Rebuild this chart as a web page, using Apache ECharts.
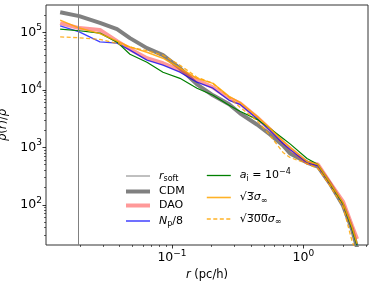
<!DOCTYPE html>
<html>
<head>
<meta charset="utf-8">
<script src="https://cdn.jsdelivr.net/npm/echarts@6/dist/echarts.min.js"></script>
<style>html,body{margin:0;padding:0;background:#fff}#c{width:374px;height:282px}</style>
</head>
<body>
<div id="c"></div>
<script>
// radius grid (pc/h)
const r = [0.0141, 0.0197, 0.0283, 0.0382, 0.0479, 0.0645, 0.0854, 0.115, 0.155, 0.205, 0.272, 0.329, 0.443, 0.557, 0.700, 0.791, 1.065, 1.29, 1.59, 2.0, 2.34, 2.56];
const cdm    = [2.25e5, 1.92e5, 1.47e5, 1.14e5, 7.96e4, 5.33e4, 4.02e4, 2.38e4, 1.25e4, 8.05e3, 5.61e3, 3.91e3, 2.5e3, 1.68e3, 1.08e3, 782, 545, 464, 235, 97, 38, 18];
const dao    = [1.45e5, 1.19e5, 1.10e5, 7.05e4, 5.12e4, 3.56e4, 2.91e4, 2.2e4, 1.47e4, 1.11e4, 7.13e3, 5.84e3, 3.33e3, 2.05e3, 1.22e3, 957, 545, 503, 244, 114, 43.4, 25.5];
const np8    = [1.30e5, 1.02e5, 6.85e4, 6.5e4, 4.91e4, 3.29e4, 2.69e4, 2.03e4, 1.36e4, 1.07e4, 6.58e3, 5.61e3, 3.19e3, 1.97e3, 1.17e3, 918, 545, 483, 235, 105, 38.4, 20];
const ai4    = [1.14e5, 1.07e5, 9.72e4, 6.78e4, 4.18e4, 3.03e4, 2.03e4, 1.59e4, 1.07e4, 8.05e3, 5.39e3, 4.24e3, 3.07e3, 2.14e3, 1.43e3, 1.15e3, 641, 503, 235, 105, 38.4, 19.5];
const sq3    = [1.64e5, 1.19e5, 9.53e4, 7.05e4, 5.61e4, 4.53e4, 3.56e4, 2.38e4, 1.59e4, 1.30e4, 7.73e3, 6.08e3, 3.46e3, 2.14e3, 1.27e3, 996, 568, 503, 244, 109, 41.7, 21];
const sq300  = [8.38e4, 8.05e4, 7.55e4, 6.43e4, 5.55e4, 4.8e4, 4.02e4, 2.69e4, 1.66e4, 1.30e4, 7.43e3, 4.97e3, 2.94e3, 1.61e3, 815, 666, 523, 428, 216, 93, 23.7, 14];
const rSoft = 0.0197;
// axis limits and ticks
const xLim = [0.011, 3.1];
const yLim = [20, 3e5];
const xMajor = [0.1, 1];
const yMajor = [1e2, 1e3, 1e4, 1e5];

const L = Math.log10;
function minorTicks(lo, hi) {
  const out = [];
  for (let e = Math.floor(L(lo)); e <= Math.ceil(L(hi)); e++) {
    for (let k = 2; k <= 9; k++) {
      const v = k * Math.pow(10, e);
      if (v > lo * 1.0001 && v < hi * 0.9999) out.push(L(v));
    }
  }
  return out;
}
function pts(ys) { return r.map((x, i) => [L(x), L(ys[i])]); }
function expLabel(v) {
  const n = Math.round(v);
  const s = n < 0 ? '\u2212' + (-n) : String(n);
  return '{b|10}{s|' + s + '}';
}
const FONT = 'DejaVu Sans';
const tickRich = {
  b: { fontSize: 12.5, fontFamily: FONT, color: '#000' },
  s: { fontSize: 9, fontFamily: FONT, color: '#000', padding: [0, 0, 9, 0] }
};
const axisBase = (lim) => ({
  type: 'value', min: L(lim[0]), max: L(lim[1]),
  splitLine: { show: false }, axisLine: { show: false, onZero: false }
});

const chart = echarts.init(document.getElementById('c'), null, { renderer: 'canvas' });
const LH = 14;
const legRich = {
  i: { fontStyle: 'italic', fontSize: 11, fontFamily: FONT, color: '#000', lineHeight: LH },
  sub: { fontSize: 8, fontFamily: FONT, color: '#000', padding: [6, 0, 0, 0], lineHeight: LH },
  sup: { fontSize: 8, fontFamily: FONT, color: '#000', padding: [0, 0, 7, 0], lineHeight: LH },
  t: { fontSize: 11, fontFamily: FONT, color: '#000', lineHeight: LH }
};
const labels = {
  rsoft: '{i|r}{sub|soft}',
  CDM: '{t|CDM}',
  DAO: '{t|DAO}',
  np8: '{i|N}{sub|p}{t|/8}',
  ai: '{i|a}{sub|i}{t| = 10}{sup|\u22124}',
  sq3: '{t|\u221A3\u0305}{i|\u03C3}{sub|\u221E}',
  sq300: '{t|\u221A3\u03050\u03050\u0305}{i|\u03C3}{sub|\u221E}'
};
const C = {
  rsoft: '#808080', CDM: '#808080', DAO: 'rgba(255,70,70,0.55)', np8: 'rgba(0,0,255,0.75)',
  ai: '#008000', sq3: 'rgba(255,165,0,0.85)', sq300: 'rgba(255,165,0,0.85)'
};
const W = { rsoft: 1, CDM: 4, DAO: 4, np8: 1.5, ai: 1.3, sq3: 1.6, sq300: 1.4 };
const legItem = (n) => ({ name: n, itemStyle: { opacity: 0 }, lineStyle: { color: C[n], width: W[n], type: n === 'sq300' ? [4, 2.5] : 'solid', opacity: 1 } });

chart.setOption({
  animation: false,
  backgroundColor: '#fff',
  grid: { left: 46, right: 6, top: 5, bottom: 37, containLabel: false, outerBoundsMode: 'none', show: true, borderColor: '#333', borderWidth: 1, backgroundColor: 'transparent' },
  xAxis: [
    Object.assign(axisBase(xLim), {
      position: 'bottom',
      name: '{i|r} (pc/h)', nameLocation: 'middle', nameGap: 20,
      nameTextStyle: { fontSize: 11.5, fontFamily: FONT, color: '#000', rich: { i: { fontStyle: 'italic', fontSize: 11.5, fontFamily: FONT, color: '#000' } } },
      axisTick: { show: true, length: 3.5, lineStyle: { color: '#000', width: 0.8 }, customValues: xMajor.map(L) },
      axisLabel: { show: true, margin: 4, customValues: xMajor.map(L), formatter: expLabel, rich: tickRich }
    }),
    Object.assign(axisBase(xLim), {
      position: 'bottom',
      axisTick: { show: true, length: 2, lineStyle: { color: '#000', width: 0.6 }, customValues: minorTicks(xLim[0], xLim[1]) },
      axisLabel: { show: false }
    })
  ],
  yAxis: [
    Object.assign(axisBase(yLim), {
      position: 'left',
      name: '{i|\u03C1}{t|(}{i|r}{t|)/}{i|\u03C1\u0304}', nameLocation: 'middle', nameGap: 37,
      nameTextStyle: { fontSize: 11.5, fontFamily: FONT, color: '#000', rich: {
        i: { fontStyle: 'italic', fontSize: 11.5, fontFamily: FONT, color: '#000' },
        t: { fontSize: 11.5, fontFamily: FONT, color: '#000' } } },
      axisTick: { show: true, length: 3.5, lineStyle: { color: '#000', width: 0.8 }, customValues: yMajor.map(L) },
      axisLabel: { show: true, margin: 4, customValues: yMajor.map(L), formatter: expLabel, rich: tickRich }
    }),
    Object.assign(axisBase(yLim), {
      position: 'left',
      axisTick: { show: true, length: 2, lineStyle: { color: '#000', width: 0.6 }, customValues: minorTicks(yLim[0], yLim[1]) },
      axisLabel: { show: false }
    })
  ],
  legend: [
    {
      data: ['rsoft', 'CDM', 'DAO', 'np8'].map(legItem), orient: 'vertical', left: 119, top: 164,
      itemWidth: 24, itemHeight: 10, itemGap: 3,
      formatter: (n) => labels[n],
      textStyle: { rich: legRich, padding: [0, 0, 0, 4] }
    },
    {
      data: ['ai', 'sq3', 'sq300'].map(legItem), orient: 'vertical', left: 201, top: 163,
      itemWidth: 24, itemHeight: 10, itemGap: 7.5,
      formatter: (n) => labels[n],
      textStyle: { rich: legRich, padding: [0, 0, 0, 4] }
    }
  ],
  series: [
    { name: 'rsoft', type: 'line', data: [], symbol: 'none', color: C.rsoft, lineStyle: { color: C.rsoft, width: W.rsoft },
      markLine: { silent: true, symbol: 'none', label: { show: false }, lineStyle: { color: C.rsoft, width: 1, type: 'solid' }, data: [{ xAxis: L(rSoft) }] } },
    { name: 'CDM', type: 'line', data: pts(cdm), symbol: 'none', color: C.CDM, lineStyle: { color: C.CDM, width: W.CDM } },
    { name: 'DAO', type: 'line', data: pts(dao), symbol: 'none', color: C.DAO, lineStyle: { color: C.DAO, width: W.DAO } },
    { name: 'np8', type: 'line', data: pts(np8), symbol: 'none', color: C.np8, lineStyle: { color: C.np8, width: 1.3 } },
    { name: 'ai', type: 'line', data: pts(ai4), symbol: 'none', color: C.ai, lineStyle: { color: C.ai, width: 1.2 } },
    { name: 'sq3', type: 'line', data: pts(sq3), symbol: 'none', color: C.sq3, lineStyle: { color: C.sq3, width: 1.5 } },
    { name: 'sq300', type: 'line', data: pts(sq300), symbol: 'none', color: C.sq300, lineStyle: { color: C.sq300, width: 1.3, type: [4, 2.5] } }
  ]
});
</script>
</body>
</html>
